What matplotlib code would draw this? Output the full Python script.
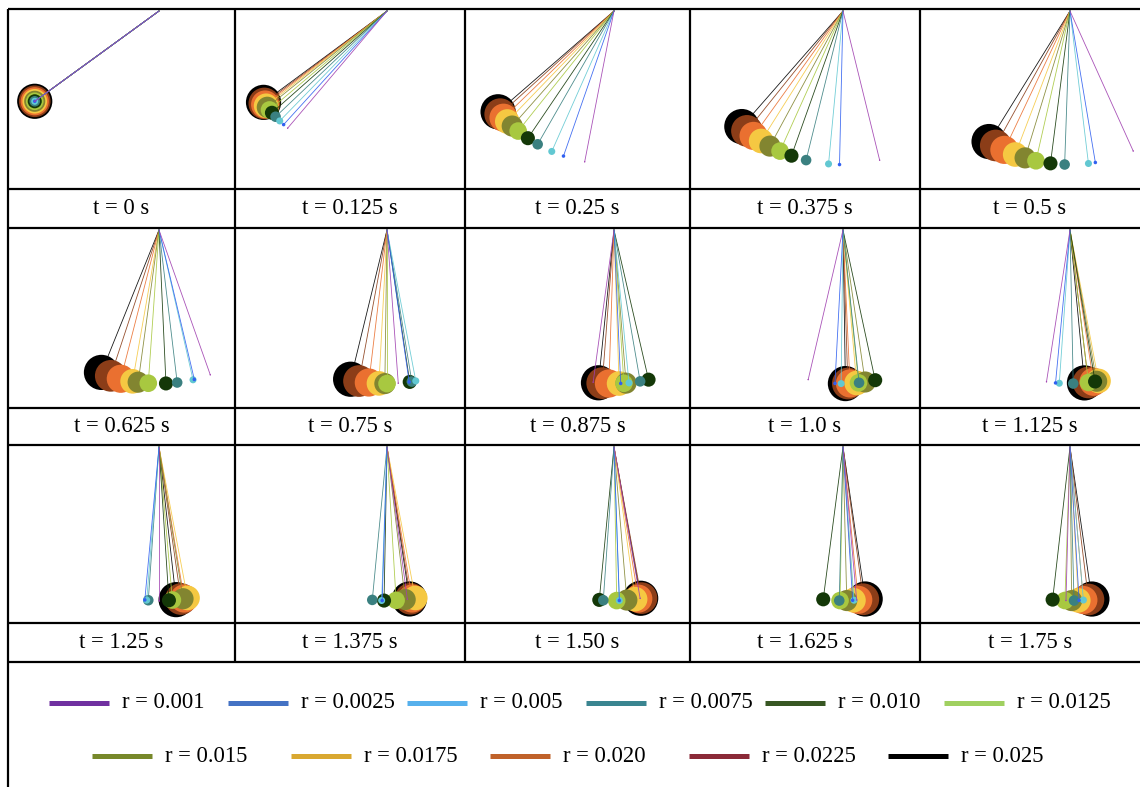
import numpy as np
import matplotlib.pyplot as plt
from matplotlib.patches import Circle

# ---- data

radii = [0.001, 0.0025, 0.005, 0.0075, 0.010, 0.0125, 0.015, 0.0175, 0.020, 0.0225, 0.025]
radius_labels = ['r = 0.001', 'r = 0.0025', 'r = 0.005', 'r = 0.0075', 'r = 0.010', 'r = 0.0125',
                 'r = 0.015', 'r = 0.0175', 'r = 0.020', 'r = 0.0225', 'r = 0.025']

bob_colors = ['#a040b0', '#3060f0', '#62c8d2', '#3a8080', '#143808', '#a8c840',
              '#828530', '#f5c842', '#ea7030', '#8b3d18', '#000000']
legend_colors = ['#7030a0', '#4472c4', '#56b0ec', '#3a8590', '#385723', '#a0d060',
                 '#77882a', '#d9a830', '#c0622a', '#8b2a38', '#000000']

time_labels = ['t = 0 s', 't = 0.125 s', 't = 0.25 s', 't = 0.375 s', 't = 0.5 s',
               't = 0.625 s', 't = 0.75 s', 't = 0.875 s', 't = 1.0 s', 't = 1.125 s',
               't = 1.25 s', 't = 1.375 s', 't = 1.50 s', 't = 1.625 s', 't = 1.75 s']

# angle from vertical (deg) of each bob, small r -> large r
angles_deg = [
    [-54.0, -54.0, -54.0, -54.0, -54.0, -54.0, -54.0, -54.0, -54.0, -54.0, -54.0],
    [-40.3, -42.3, -44.3, -46.5, -48.5, -49.9, -51.2, -51.9, -52.5, -53.0, -53.5],
    [-11.0, -19.2, -23.9, -29.8, -34.1, -38.6, -41.5, -44.0, -46.0, -47.8, -49.0],
    [13.8, -1.3, -5.4, -13.9, -19.6, -24.2, -28.4, -32.2, -35.6, -38.7, -41.2],
    [24.3, 9.5, 6.9, -2.0, -7.3, -12.8, -17.0, -20.9, -25.3, -28.9, -31.8],
    [19.5, 13.3, 12.8, 6.8, 2.6, -4.0, -7.8, -9.9, -14.4, -18.3, -22.0],
    [4.2, 8.3, 10.8, 9.3, 8.5, 0.0, -0.8, -3.0, -6.8, -10.5, -13.7],
    [-7.8, 2.5, 5.6, 9.8, 13.0, 3.7, 4.5, 1.9, -1.9, -4.4, -5.8],
    [-13.1, -3.0, -0.7, 6.0, 12.1, 5.8, 8.3, 5.1, 2.6, 1.8, 0.9],
    [-8.8, -5.4, -4.0, 1.2, 9.4, 6.9, 10.0, 10.7, 8.8, 6.9, 5.4],
    [0.0, -5.3, -4.6, -4.0, 3.7, 5.0, 9.0, 10.7, 9.4, 8.2, 6.4],
    [7.6, -1.8, -2.0, -5.5, -1.1, 3.4, 6.8, 10.6, 9.4, 8.8, 8.4],
    [9.8, 2.0, 2.0, -4.0, -5.5, 1.0, 4.8, 7.9, 9.1, 10.3, 10.0],
    [5.1, 3.6, 4.1, -1.4, -7.4, -1.1, 1.4, 3.9, 5.7, 7.6, 8.3],
    [-1.5, 3.4, 5.0, 1.5, -6.5, -1.9, 0.6, 3.1, 5.0, 6.9, 8.2],
]

length = 0.24   # string length (m)


# ---- layout (pixels, origin top left)

W, H = 1140, 787
scale = 640.    # px per m
bob_zoom = 1.1  # bobs drawn a touch bigger than to scale
col_edges = [8, 235, 465, 690, 920, 1140]
pivot_x = [159, 387, 614, 843, 1070]
panel_top = [9, 228, 445]
panel_bot = [189, 408, 623]
cap_bot = [228, 445, 662]
serif = 'Liberation Serif'

fig = plt.figure(figsize=(W/100., H/100.), dpi=100)


def box(x0, y0, x1, y1):
    return [x0/W, 1 - y1/H, (x1 - x0)/W, (y1 - y0)/H]


N = len(radii)
for k in range(len(time_labels)):
    row, col = divmod(k, 5)
    x0, x1 = col_edges[col], col_edges[col+1]
    y0, y1 = panel_top[row], panel_bot[row]
    ax = fig.add_axes(box(x0, y0, x1, y1))
    px, py = pivot_x[col], y0 + 2
    ax.set_xlim((x0 - px)/scale, (x1 - px)/scale)
    ax.set_ylim((py - y1)/scale, (py - y0)/scale)
    ax.axis('off')

    th = np.radians(angles_deg[k])
    bx, by = length*np.sin(th), -length*np.cos(th)
    for i in range(N-1, -1, -1):   # biggest bob at the back
        z = 2*(N - i)
        ax.plot([0, bx[i]], [0, by[i]], color=bob_colors[i], lw=0.6, alpha=0.9, zorder=z)
        ax.add_patch(Circle((bx[i], by[i]), radii[i]*bob_zoom, facecolor=bob_colors[i], lw=0, zorder=z+1))

    fig.text((x0 + x1)/2/W, 1 - (y1 + cap_bot[row])/2/H, time_labels[k],
             ha='center', va='center', fontsize=16.3, family=serif)


# ---- table borders + legend on an overlay axes

ov = fig.add_axes([0, 0, 1, 1], zorder=10)
ov.set_xlim(0, W)
ov.set_ylim(H, 0)
ov.axis('off')
ov.patch.set_alpha(0)

for y in [9] + panel_bot + cap_bot:
    ov.plot([col_edges[0], col_edges[-1]], [y, y], color='k', lw=1.6, solid_capstyle='butt')
for x in col_edges[1:-1]:
    ov.plot([x, x], [panel_top[0], cap_bot[-1]], color='k', lw=1.6, solid_capstyle='butt')
ov.plot([col_edges[0], col_edges[0]], [panel_top[0], H], color='k', lw=1.6, solid_capstyle='butt')

for i in range(N):
    if i < 6:
        x, y = 49 + 179*i, 703
    else:
        x, y = 92 + 199*(i - 6), 756
    ov.plot([x, x + 60], [y, y], color=legend_colors[i], lw=3.6, solid_capstyle='butt')
    ov.text(x + 73, y, radius_labels[i], ha='left', va='center', fontsize=16.3, family=serif)

fig.savefig('out.png', dpi=100)
